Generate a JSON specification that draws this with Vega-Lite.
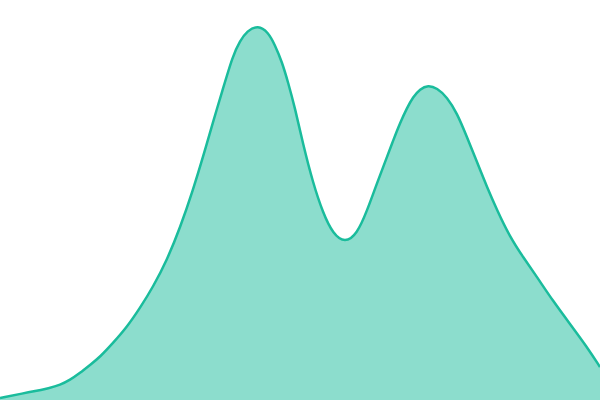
{
  "$schema": "https://vega.github.io/schema/vega-lite/v6.json",
  "width": 600,
  "height": 400,
  "autosize": {"type": "none"},
  "padding": 0,
  "background": "white",
  "config": {"view": {"stroke": null}},
  "data": {"values": [
    {"x": 0, "y": 2},
    {"x": 30, "y": 8},
    {"x": 50, "y": 12},
    {"x": 60, "y": 15},
    {"x": 70, "y": 20},
    {"x": 80, "y": 27},
    {"x": 90, "y": 35},
    {"x": 100, "y": 43},
    {"x": 113, "y": 57},
    {"x": 127, "y": 73},
    {"x": 140, "y": 92},
    {"x": 153, "y": 113},
    {"x": 167, "y": 140},
    {"x": 180, "y": 172},
    {"x": 193, "y": 210},
    {"x": 203, "y": 243},
    {"x": 213, "y": 278},
    {"x": 222, "y": 308},
    {"x": 233, "y": 345},
    {"x": 240, "y": 359},
    {"x": 247, "y": 369},
    {"x": 258, "y": 375},
    {"x": 268, "y": 368},
    {"x": 275, "y": 355},
    {"x": 282, "y": 338},
    {"x": 288, "y": 318},
    {"x": 295, "y": 292},
    {"x": 303, "y": 256},
    {"x": 313, "y": 217},
    {"x": 323, "y": 187},
    {"x": 333, "y": 166},
    {"x": 345, "y": 157},
    {"x": 357, "y": 166},
    {"x": 367, "y": 189},
    {"x": 377, "y": 217},
    {"x": 387, "y": 243},
    {"x": 393, "y": 259},
    {"x": 400, "y": 277},
    {"x": 407, "y": 292},
    {"x": 413, "y": 303},
    {"x": 420, "y": 311},
    {"x": 428, "y": 315},
    {"x": 437, "y": 312},
    {"x": 447, "y": 303},
    {"x": 457, "y": 287},
    {"x": 467, "y": 263},
    {"x": 477, "y": 238},
    {"x": 487, "y": 213},
    {"x": 497, "y": 190},
    {"x": 510, "y": 163},
    {"x": 523, "y": 143},
    {"x": 537, "y": 123},
    {"x": 553, "y": 99},
    {"x": 570, "y": 76},
    {"x": 587, "y": 53},
    {"x": 600, "y": 33}
  ]},
  "mark": {
    "type": "area",
    "interpolate": "basis",
    "color": "#1abc9c",
    "fillOpacity": 0.5,
    "line": {"color": "#1abc9c", "strokeWidth": 2.5}
  },
  "encoding": {
    "x": {"field": "x", "type": "quantitative", "scale": {"domain": [0, 600], "nice": false, "zero": false}, "axis": null},
    "y": {"field": "y", "type": "quantitative", "scale": {"domain": [0, 400], "nice": false}, "axis": null}
  }
}
